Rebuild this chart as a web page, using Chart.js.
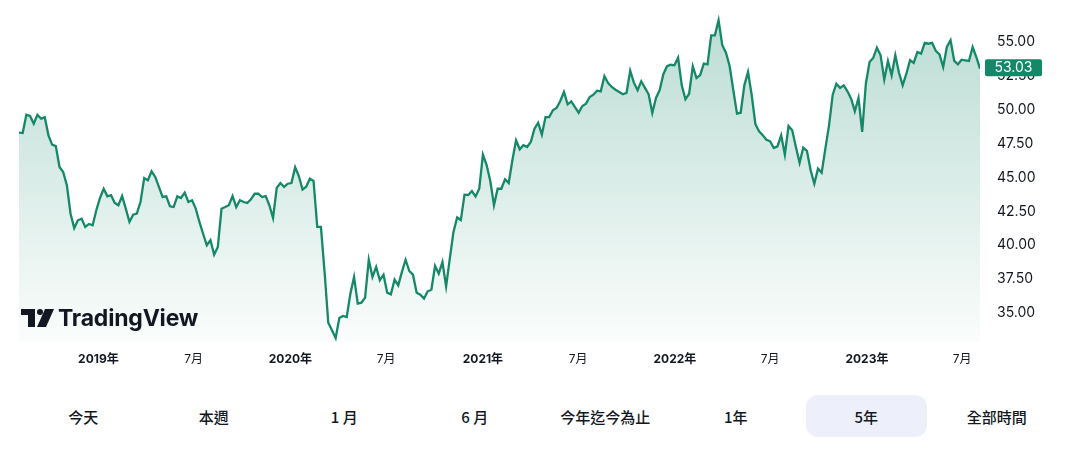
<!DOCTYPE html>
<html>
<head>
<meta charset="utf-8">
<script src="https://cdn.jsdelivr.net/npm/chart.js@4"></script>
<style>
  html, body { margin: 0; padding: 0; background: #fff; }
  body { width: 1080px; height: 457px; position: relative; overflow: hidden; font-family: Inter, "Noto Sans CJK TC", sans-serif; }
  #wrap { position: absolute; left: 0; top: 0; width: 1080px; height: 380px; }
  #logo { position: absolute; left: 21px; top: 305px; height: 26px; display: flex; align-items: center; color: #131722; }
  #logo span { font-family: Inter, sans-serif; font-weight: 700; font-size: 23px; letter-spacing: -0.2px; margin-left: 3px; }
  #rangeBar { position: absolute; left: 18px; top: 395px; width: 1044px; height: 42px; display: flex; }
  #rangeBar div { flex: 1; margin: 0 5px; border-radius: 12px; display: flex; align-items: center; justify-content: center;
    font-family: "Noto Sans CJK TC", sans-serif; font-size: 15px; font-weight: 500; color: #131722; }
  #rangeBar div.active { background: #edf0fa; }
</style>
</head>
<body>
<div id="wrap"><canvas id="grafico" width="1080" height="380"></canvas></div>
<div id="logo">
  <svg width="34" height="18" viewBox="0 0 34 18">
    <path d="M0 0 H14 V18 H7 V6 H0 Z" fill="#131722"/>
    <circle cx="19" cy="3" r="3" fill="#131722"/>
    <path d="M24 0 H33 L25 18 H16 Z" fill="#131722"/>
  </svg>
  <span>TradingView</span>
</div>
<div id="rangeBar"></div>

<script>
// Precio semanal (cierre) de los últimos 5 años
const fechaInicio = '2018-08-03';
const cierreSemanal = [
  48.31, 48.28, 49.63, 49.54, 48.97, 49.63, 49.34, 49.44, 48.11, 47.42,
  47.32, 45.77, 45.41, 44.42, 42.33, 41.27, 41.84, 41.96, 41.35, 41.57,
  41.47, 42.58, 43.49, 44.17, 43.61, 43.69, 43.12, 42.95, 43.63, 42.70,
  41.72, 42.25, 42.33, 43.19, 44.96, 44.79, 45.46, 45.04, 44.30, 43.56,
  43.61, 42.87, 42.82, 43.61, 43.49, 43.88, 43.19, 43.32, 42.70, 41.72,
  40.85, 40.00, 40.37, 39.30, 39.87, 42.70, 42.82, 42.95, 43.63, 42.82,
  43.32, 43.19, 43.12, 43.39, 43.80, 43.80, 43.56, 43.63, 42.95, 42.01,
  44.23, 44.59, 44.30, 44.54, 44.59, 45.76, 45.11, 44.11, 44.32, 44.91,
  44.74, 41.35, 41.35, 38.00, 34.28, 33.72, 33.15, 34.63, 34.78, 34.70,
  36.42, 37.66, 35.69, 35.76, 36.13, 38.93, 37.66, 38.39, 37.41, 37.83,
  36.50, 36.38, 37.46, 37.04, 38.03, 38.93, 38.10, 37.83, 36.50, 36.35,
  36.06, 36.60, 36.72, 38.47, 37.90, 38.76, 36.97, 39.01, 40.98, 42.05,
  41.86, 43.73, 43.71, 44.00, 43.60, 44.17, 46.68, 45.92, 44.74, 42.95,
  44.17, 44.17, 44.87, 44.59, 46.27, 47.75, 47.08, 47.38, 47.25, 47.62,
  48.60, 49.04, 48.16, 49.46, 49.46, 49.96, 50.13, 50.65, 51.31, 50.40,
  50.62, 50.20, 49.78, 50.28, 50.45, 50.94, 51.11, 51.41, 51.36, 52.47,
  51.97, 51.68, 51.48, 51.31, 51.14, 51.24, 52.88, 52.00, 51.44, 52.10,
  51.61, 51.14, 49.76, 50.87, 51.44, 52.62, 53.21, 53.32, 53.28, 53.84,
  51.80, 50.77, 51.18, 53.21, 52.34, 52.56, 53.40, 53.35, 55.49, 55.49,
  56.60, 54.76, 54.21, 53.23, 51.44, 49.71, 49.78, 51.80, 52.79, 51.07,
  48.93, 48.41, 48.11, 47.79, 47.67, 47.18, 47.30, 48.11, 46.68, 48.80,
  48.48, 47.25, 46.09, 47.20, 46.96, 45.53, 44.54, 45.65, 45.35, 47.13,
  48.85, 51.11, 51.92, 51.61, 51.80, 51.36, 50.82, 49.89, 50.87, 48.36,
  51.92, 53.52, 53.82, 54.58, 54.02, 52.22, 53.60, 52.54, 54.02, 52.73,
  51.80, 52.66, 53.65, 53.45, 54.26, 54.14, 54.93, 54.87, 54.93, 54.34,
  54.09, 53.15, 54.63, 55.13, 53.60, 53.35, 53.69, 53.65, 53.60, 54.63,
  53.89, 53.03
];
const ultimoPrecio = '53.03';

// Etiquetas del eje X
const fechasTicks = ['2019-01-01', '2019-07-01', '2020-01-01', '2020-07-01', '2021-01-01',
  '2021-07-01', '2022-01-01', '2022-07-01', '2023-01-01', '2023-07-01'];
const etiquetasTicks = ['2019年', '7月', '2020年', '7月', '2021年', '7月', '2022年', '7月', '2023年', '7月'];
const ticksY = [35, 37.5, 40, 42.5, 45, 47.5, 50, 52.5, 55];

// Botones de rango
const rangos = ['今天', '本週', '1 月', '6 月', '今年迄今為止', '1年', '5年', '全部時間'];
const rangoActivo = '5年';

const verde = '#158868';
const semanaMs = 7 * 24 * 3600 * 1000;
const t0 = Date.parse(fechaInicio);
const semanasTicks = fechasTicks.map(f => (Date.parse(f) - t0) / semanaMs);
const puntos = cierreSemanal.map((v, i) => ({ x: i, y: v }));

const barra = document.getElementById('rangeBar');
rangos.forEach(r => {
  const d = document.createElement('div');
  d.textContent = r;
  if (r === rangoActivo) d.className = 'active';
  barra.appendChild(d);
});

// etiqueta del último precio sobre el eje Y
const etiquetaPrecio = {
  id: 'etiquetaPrecio',
  afterDraw(chart) {
    const c = chart.ctx;
    const y = chart.scales.y.getPixelForValue(cierreSemanal[cierreSemanal.length - 1]);
    const x0 = chart.chartArea.right + 5;
    c.save();
    c.fillStyle = verde;
    c.beginPath();
    c.roundRect(x0, y - 9.5, 57, 17, 2);
    c.fill();
    c.fillStyle = '#ffffff';
    c.font = '14px Inter, sans-serif';
    c.textAlign = 'center';
    c.textBaseline = 'middle';
    c.fillText(ultimoPrecio, x0 + 28.5, y - 0.5);
    c.restore();
  }
};

new Chart(document.getElementById('grafico'), {
  type: 'line',
  data: {
    datasets: [{
      data: puntos,
      borderColor: verde,
      borderWidth: 2.3,
      pointRadius: 0,
      tension: 0,
      fill: 'start',
      backgroundColor: ctx => {
        const area = ctx.chart.chartArea;
        if (!area) return 'rgba(23,138,106,0.15)';
        const g = ctx.chart.ctx.createLinearGradient(0, area.top, 0, area.bottom);
        g.addColorStop(0, 'rgba(23,138,106,0.30)');
        g.addColorStop(1, 'rgba(23,138,106,0.02)');
        return g;
      }
    }]
  },
  options: {
    responsive: false,
    animation: false,
    layout: { padding: { left: 19, top: 10, right: 0, bottom: 0 } },
    plugins: { legend: { display: false }, tooltip: { enabled: false } },
    scales: {
      x: {
        type: 'linear',
        min: 0,
        max: cierreSemanal.length - 1,
        grid: { display: false, drawTicks: false },
        border: { display: false },
        afterBuildTicks: s => { s.ticks = semanasTicks.map(v => ({ value: v })); },
        afterFit: s => { s.height = 38; },
        ticks: {
          autoSkip: false,
          maxRotation: 0,
          padding: 10,
          color: '#131722',
          font: ctx => ctx.index % 2 === 0
            ? { family: 'Inter, "Noto Sans CJK TC", sans-serif', size: 12, weight: 'bold' }
            : { family: 'Inter, "Noto Sans CJK TC", sans-serif', size: 12, weight: 'normal' },
          callback: (v, i) => etiquetasTicks[i]
        }
      },
      y: {
        position: 'right',
        min: 32.86,
        max: 57.36,
        grid: { display: false, drawTicks: false },
        border: { display: false },
        afterBuildTicks: s => { s.ticks = ticksY.map(v => ({ value: v })); },
        afterFit: s => { s.width = 100; s.paddingTop = 0; s.paddingBottom = 0; },
        ticks: {
          padding: 17,
          color: '#131722',
          font: { family: 'Inter, sans-serif', size: 14 },
          callback: v => Number(v).toFixed(2)
        }
      }
    }
  },
  plugins: [etiquetaPrecio]
});
</script>
</body>
</html>
